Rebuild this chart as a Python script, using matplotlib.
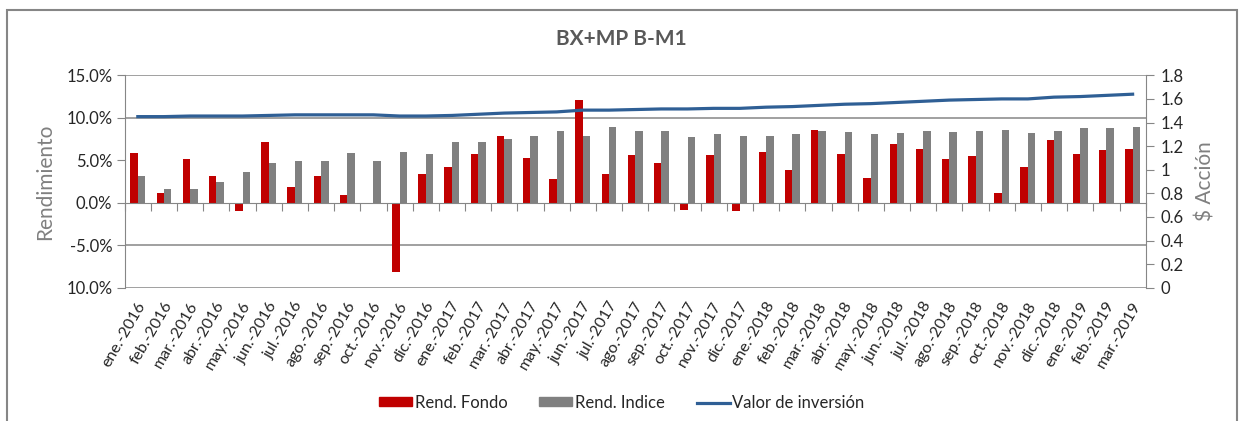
import numpy as np
import matplotlib
matplotlib.use("Agg")
import matplotlib.pyplot as plt
from matplotlib.patches import Rectangle, Patch
from matplotlib.lines import Line2D
from matplotlib.transforms import blended_transform_factory

plt.rcParams['font.family'] = ['Lato', 'DejaVu Sans']

# data
months = ['ene.-2016', 'feb.-2016', 'mar.-2016', 'abr.-2016', 'may.-2016', 'jun.-2016',
          'jul.-2016', 'ago.-2016', 'sep.-2016', 'oct.-2016', 'nov.-2016', 'dic.-2016',
          'ene.-2017', 'feb.-2017', 'mar.-2017', 'abr.-2017', 'may.-2017', 'jun.-2017',
          'jul.-2017', 'ago.-2017', 'sep.-2017', 'oct.-2017', 'nov.-2017', 'dic.-2017',
          'ene.-2018', 'feb.-2018', 'mar.-2018', 'abr.-2018', 'may.-2018', 'jun.-2018',
          'jul.-2018', 'ago.-2018', 'sep.-2018', 'oct.-2018', 'nov.-2018', 'dic.-2018',
          'ene.-2019', 'feb.-2019', 'mar.-2019']

rend_fondo = [5.8, 1.2, 5.2, 3.2, -1.0, 7.2, 1.9, 3.2, 0.95, 0.0, -8.2, 3.4,
              4.2, 5.7, 7.9, 5.3, 2.8, 12.1, 3.4, 5.6, 4.7, -0.9, 5.6, -1.0,
              6.0, 3.8, 8.6, 5.7, 2.9, 6.9, 6.3, 5.2, 5.5, 1.2, 4.2, 7.4,
              5.7, 6.2, 6.3]

rend_indice = [3.2, 1.65, 1.65, 2.5, 3.65, 4.7, 4.95, 4.95, 5.9, 4.95, 6.0, 5.7,
               7.1, 7.1, 7.5, 7.9, 8.5, 7.9, 8.9, 8.5, 8.5, 7.7, 8.1, 7.9,
               7.9, 8.1, 8.5, 8.3, 8.1, 8.2, 8.5, 8.3, 8.4, 8.6, 8.2, 8.5,
               8.8, 8.8, 8.9]

valor_inversion = [1.45, 1.45, 1.455, 1.455, 1.455, 1.46, 1.465, 1.465, 1.465, 1.465, 1.455, 1.455,
                   1.46, 1.47, 1.48, 1.485, 1.49, 1.505, 1.505, 1.51, 1.515, 1.515, 1.52, 1.52,
                   1.53, 1.535, 1.545, 1.555, 1.56, 1.57, 1.58, 1.59, 1.595, 1.60, 1.60, 1.615,
                   1.62, 1.63, 1.64]

left_ticks = [-10, -5, 0, 5, 10, 15]
left_labels = ['10.0%', '-5.0%', '0.0%', '5.0%', '10.0%', '15.0%']
grid_levels = [-10, -5, 10, 15]
right_ticks = [0, 0.2, 0.4, 0.6, 0.8, 1.0, 1.2, 1.4, 1.6, 1.8]
right_labels = ['0', '0.2', '0.4', '0.6', '0.8', '1', '1.2', '1.4', '1.6', '1.8']

RED = '#C00000'
GRAY = '#808080'
BLUE = '#2F5F95'
LINE = '#868686'
TXT = '#262626'

fig = plt.figure(figsize=(12.46, 4.21), dpi=100)
ax = fig.add_axes([0.1001, 0.3166, 0.8194, 0.5045])

x = np.arange(len(months))
w = 0.285
ax.bar(x - w / 2, rend_fondo, width=w, color=RED, zorder=3)
ax.bar(x + w / 2, rend_indice, width=w, color=GRAY, zorder=3)

for g in grid_levels:
    ax.axhline(g, color=LINE, lw=1.1, zorder=1)

ax.set_xlim(-0.5, len(months) - 0.5)
ax.set_ylim(-10, 15)
ax.set_yticks(left_ticks)
ax.set_yticklabels(left_labels)
ax.tick_params(axis='y', direction='out', length=6, color=LINE, labelsize=12,
               labelcolor=TXT, pad=3)

# category axis at 0 with marks between categories
ax.spines['bottom'].set_position(('data', 0))
ax.spines['bottom'].set_color(LINE)
ax.spines['bottom'].set_zorder(4)
ax.set_xticks(np.arange(len(months) + 1) - 0.5)
ax.set_xticklabels([])
ax.tick_params(axis='x', direction='out', length=6, color=LINE)
for s in ['top', 'right']:
    ax.spines[s].set_visible(False)
ax.spines['left'].set_color(LINE)

trans = blended_transform_factory(ax.transData, ax.transAxes)
for i, m in enumerate(months):
    ax.text(i + 0.18, -0.07, m, transform=trans, rotation=60, rotation_mode='anchor',
            ha='right', va='center', fontsize=11.5, color=TXT)

ax.set_ylabel('Rendimiento', fontsize=15, color=GRAY, labelpad=8)

ax2 = ax.twinx()
ax2.plot(x, valor_inversion, color=BLUE, lw=2.3, zorder=5)
ax2.set_ylim(0, 1.8)
ax2.set_yticks(right_ticks)
ax2.set_yticklabels(right_labels)
ax2.tick_params(axis='y', direction='out', length=6, color=LINE, labelsize=12,
                labelcolor=TXT, pad=5)
for s in ['top', 'left', 'bottom']:
    ax2.spines[s].set_visible(False)
ax2.spines['right'].set_color(LINE)
ax2.set_ylabel('$ Acción', fontsize=15, color=GRAY, rotation=90, labelpad=8)

fig.text(0.499, 0.907, 'BX+MP B-M1', ha='center', va='center', fontsize=15,
         fontweight='bold', color='#595959')

handles = [Patch(color=RED), Patch(color=GRAY), Line2D([], [], color=BLUE, lw=2.3)]
fig.legend(handles, ['Rend. Fondo', 'Rend. Indice', 'Valor de inversión'],
           loc='center', bbox_to_anchor=(0.499, 0.043), ncol=3, frameon=False,
           fontsize=12, handlelength=2.0, handleheight=0.45, handletextpad=0.15,
           columnspacing=1.9, labelcolor=TXT)

fig.patches.append(Rectangle((0.0056, -0.05), 0.9872, 1.026, transform=fig.transFigure,
                             fill=False, edgecolor=LINE, lw=1.5))

fig.savefig('out.png', dpi=100)
